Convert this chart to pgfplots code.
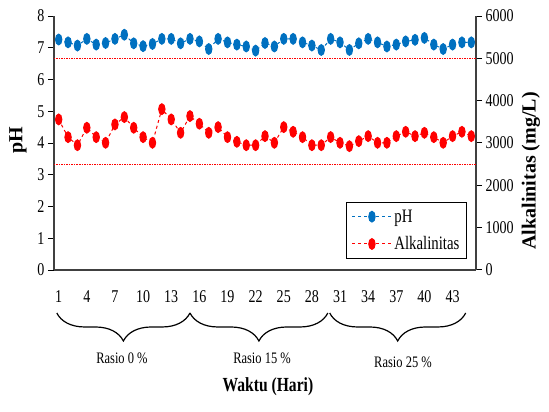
\documentclass[border=0pt]{standalone}
\usepackage{pgfplots}
\pgfplotsset{compat=1.18}
\usepackage{fontspec}
\setmainfont{Liberation Serif}[FakeStretch=0.78]
\newfontfamily\rotfont{Liberation Serif}
\usetikzlibrary{decorations.pathreplacing}
\definecolor{phblue}{HTML}{0070C0}
\definecolor{alkred}{HTML}{FF0000}

\pgfplotsset{
  base/.style={
    scale only axis, width=422pt, height=254pt,
    xmin=0.5, xmax=45.5,
    tick align=outside,
    /pgf/number format/assume math mode=true,
    /pgf/number format/1000 sep={},
    tick label style={font=\fontsize{18}{18}\selectfont},
    major tick length=6pt,
    axis line style={line width=1.3pt, black!75},
    tick style={line width=1pt, black},
  },
  ser/.style={dashed, line width=1pt, mark=*, mark size=4pt,
    mark options={solid, xscale=0.8, yscale=1.35}},
}

\begin{document}
\begin{tikzpicture}
\useasboundingbox (-54pt,-142pt) rectangle (495pt,270pt);
\begin{axis}[base, clip=false,
  axis y line*=left, axis x line*=bottom,
  ymin=0, ymax=8, ytick={0,...,8},
  xtick={1,4,...,43},
  xtick style={draw=none},
  extra x ticks={0.5,2.5,...,44.5},
  extra x tick labels={},
  extra x tick style={tick style={draw=black, line width=1pt}},
  xticklabel style={yshift=-11pt},
  ylabel={\rotfont\bfseries pH},
  ylabel style={at={(rel axis cs:-0.0853,0.51)}, anchor=center,
    font=\fontsize{20}{20}\selectfont},
]
\addplot[ser, color=phblue] coordinates {
(1,7.26) (2,7.17) (3,7.07) (4,7.28) (5,7.10) (6,7.15) (7,7.28) (8,7.41)
(9,7.14) (10,7.05) (11,7.12) (12,7.28) (13,7.28) (14,7.14) (15,7.28)
(16,7.20) (17,6.96) (18,7.28) (19,7.17) (20,7.10) (21,7.04) (22,6.91)
(23,7.15) (24,7.04) (25,7.28) (26,7.28) (27,7.17) (28,7.07) (29,6.93)
(30,7.28) (31,7.17) (32,6.93) (33,7.14) (34,7.28) (35,7.17) (36,7.04)
(37,7.10) (38,7.20) (39,7.25) (40,7.31) (41,7.10) (42,6.96) (43,7.10)
(44,7.17) (45,7.17)
};
% braces and group labels
\draw[decorate, decoration={brace, mirror, amplitude=28pt}, line width=1.2pt]
  (axis cs:0.8,-1.354) -- (axis cs:15,-1.354);
\draw[decorate, decoration={brace, mirror, amplitude=28pt}, line width=1.2pt]
  (axis cs:15,-1.354) -- (axis cs:29.7,-1.354);
\draw[decorate, decoration={brace, mirror, amplitude=28pt}, line width=1.2pt]
  (axis cs:29.9,-1.354) -- (axis cs:44.4,-1.354);
\node[font=\fontsize{16}{16}\selectfont] at (rel axis cs:0.161,-0.348) {Rasio 0 \%};
\node[font=\fontsize{16}{16}\selectfont] at (rel axis cs:0.493,-0.348) {Rasio 15 \%};
\node[font=\fontsize{16}{16}\selectfont] at (rel axis cs:0.827,-0.364) {Rasio 25 \%};
\node[font=\fontsize{20}{20}\selectfont\bfseries] at (rel axis cs:0.507,-0.46) {Waktu (Hari)};
\end{axis}

\begin{axis}[base,
  axis y line*=right, axis x line=none,
  ymin=0, ymax=6000, ytick={0,1000,...,6000},
  scaled y ticks=false,
  ylabel={\rotfont\bfseries Alkalinitas (mg/L)},
  ylabel style={at={(rel axis cs:1.130,0.39)}, anchor=center,
    font=\fontsize{20}{20}\selectfont},
  legend style={at={(rel axis cs:0.979,0.043)}, anchor=south east,
    draw=black, line width=1.5pt, font=\fontsize{19}{19}\selectfont,
    row sep=9pt, inner sep=5pt},
  legend cell align=left,
  legend image code/.code={
    \draw[mark repeat=2, mark phase=2] plot coordinates {(0cm,0cm) (0.7cm,0cm) (1.4cm,0cm)};},
]
\addlegendimage{ser, color=phblue}
\addlegendentry{pH}
\addplot[ser, color=alkred] coordinates {
(1,3557) (2,3138) (3,2948) (4,3360) (5,3138) (6,3005) (7,3438) (8,3612)
(9,3360) (10,3138) (11,3005) (12,3800) (13,3557) (14,3241) (15,3636)
(16,3455) (17,3241) (18,3375) (19,3138) (20,3028) (21,2948) (22,2948)
(23,3162) (24,3005) (25,3375) (26,3265) (27,3138) (28,2948) (29,2948)
(30,3140) (31,3005) (32,2925) (33,3043) (34,3162) (35,3005) (36,3005)
(37,3162) (38,3265) (39,3162) (40,3241) (41,3138) (42,3005) (43,3162)
(44,3265) (45,3162)
};
\addlegendentry{Alkalinitas}
\addplot[alkred, line width=0.8pt, dash pattern=on 1.5pt off 1pt, forget plot]
  coordinates {(0.5,5000) (45.5,5000)};
\addplot[alkred, line width=0.8pt, dash pattern=on 1.5pt off 1pt, forget plot]
  coordinates {(0.5,2500) (45.5,2500)};
\end{axis}
\end{tikzpicture}
\end{document}
